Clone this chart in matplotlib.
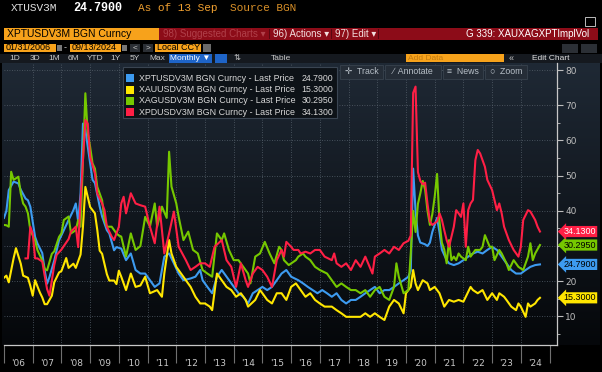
import numpy as np
import matplotlib
matplotlib.use("Agg")
import matplotlib.pyplot as plt
from matplotlib.patches import Rectangle
from matplotlib.colors import LinearSegmentedColormap
from matplotlib.transforms import blended_transform_factory

# month offsets from Jan 2006 and 3M implied vol
xpt_m = [0, 1, 2, 4, 6, 7, 9, 10, 11, 13, 14, 16, 17, 18, 19, 21, 22, 23, 25, 27, 29, 30, 31, 32, 33, 34,
         36, 37, 38, 40, 41, 43, 44, 46, 47, 49, 51, 53, 55, 57, 59, 61, 63, 65, 67, 69, 71, 73, 75, 78,
         80, 82, 83, 85, 87, 89, 91, 93, 95, 98, 100, 102, 104, 106, 108, 110, 112, 114, 116, 118, 120,
         123, 125, 127, 129, 131, 133, 135, 137, 139, 141, 143, 145, 147, 149, 151, 153, 155, 157, 159,
         161, 163, 165, 167, 169, 170, 171, 172, 173, 174, 176, 177, 178, 179, 181, 182, 183, 185, 186,
         188, 190, 192, 194, 196, 198, 200, 202, 204, 206, 208, 210, 212, 214, 216, 218, 220, 222, 224]
xpt_v = [38, 40, 45.9, 48.3, 47.8, 46, 43.5, 43, 41.2, 32.6, 30.7, 28, 23.1, 19.3, 21.2, 25.9, 28.8, 31.6,
         34.5, 37.4, 40.2, 42.1, 37, 45, 64.8, 63, 53.5, 48.8, 47.9, 41.2, 38.4, 34.5, 33.6, 28.8, 29.7,
         29.3, 26, 27.9, 23.2, 22.2, 22.2, 20.3, 18.4, 19.4, 27, 27.9, 25.1, 22.2, 20.3, 20.8, 21.3, 23.2,
         20.3, 18.4, 16.6, 21.3, 23.2, 21.3, 19.4, 16.6, 15.6, 13.7, 16.6, 17.5, 18.4, 17.5, 18.4, 20.3,
         22.2, 23.2, 21.3, 20.3, 19.4, 18.4, 17.5, 16.6, 17.5, 16.6, 15.6, 16.6, 14.7, 13.7, 14.7, 14.7,
         15.6, 16.6, 17.5, 18.4, 16.6, 17.5, 17.5, 18.4, 19.4, 20.3, 21.3, 23, 52, 40, 33, 31, 30.5, 30,
         31, 34, 38, 34, 29, 26, 25.1, 24.6, 25.1, 26, 27, 27.9, 28.4, 27.9, 28.9, 29.8, 28.9, 27, 25.1,
         23.2, 22.2, 22.2, 23.2, 24.1, 24.6, 24.79]

xau_m = [0, 1, 2, 4, 5, 7, 8, 10, 11, 12, 13, 14, 15, 16, 17, 18, 20, 21, 23, 24, 26, 27, 29, 30, 32, 33,
         34, 35, 36, 38, 39, 40, 41, 43, 44, 46, 47, 48, 49, 51, 53, 55, 57, 59, 61, 64, 66, 67, 69, 70,
         72, 74, 76, 78, 80, 82, 84, 86, 87, 89, 91, 93, 95, 97, 99, 101, 102, 105, 107, 108, 110, 112,
         114, 116, 118, 120, 122, 124, 126, 128, 130, 132, 134, 137, 139, 141, 143, 146, 149, 151, 153,
         155, 157, 159, 161, 163, 165, 167, 168, 170, 171, 172, 173, 175, 177, 178, 180, 182, 184, 186,
         188, 190, 192, 193, 195, 196, 198, 200, 202, 204, 206, 207, 209, 210, 212, 214, 215, 216, 218,
         219, 220, 222, 223, 224]
xau_v = [21, 21.6, 19.7, 26.5, 29.4, 25, 21.6, 21, 18.7, 15.9, 20.3, 18.5, 16.8, 15.4, 13.5, 13.5, 15.9,
         19.7, 22.5, 22.9, 26.6, 23.8, 25, 23.8, 27.6, 35.5, 46.8, 43.9, 41.1, 39.3, 34.5, 28.7, 27.8, 22,
         20.2, 20.2, 19.2, 23, 21.3, 17.5, 22.2, 18.4, 18.8, 21.3, 16.6, 17.5, 15.6, 22.2, 31.7, 27.9,
         24.1, 22.2, 20.3, 18.4, 15.6, 13.7, 13.7, 12.8, 11.8, 22.2, 20.3, 18.4, 17.5, 15.6, 16.6, 14.7,
         12.8, 14.7, 17.5, 16.6, 14.7, 13.7, 16.6, 16.6, 14.7, 18.4, 19.4, 17.5, 15.6, 16.6, 14.7, 13.7,
         12.8, 12.8, 11.8, 10.9, 9.9, 9.9, 9.9, 10.9, 9.9, 10.9, 9.9, 9.0, 12.8, 14.7, 13.7, 10.9, 16.6,
         18.4, 23.2, 19.4, 17.5, 20.3, 19.4, 17.5, 18.4, 16.6, 12.8, 14.7, 14.2, 14.7, 14.2, 15.6, 18.4,
         17.5, 16.6, 17.5, 14.7, 16.6, 14.7, 16.6, 15.6, 14.7, 12.8, 11.8, 13.7, 12.8, 9.9, 13.7, 12.8,
         13.7, 14.7, 15.3]

xag_m = [0, 1, 2, 3, 4, 6, 7, 8, 9, 10, 11, 13, 14, 16, 17, 18, 20, 21, 23, 24, 25, 27, 28, 30, 31, 32,
         34, 35, 36, 37, 38, 39, 41, 42, 43, 45, 47, 48, 49, 51, 53, 55, 57, 59, 61, 63, 64, 66, 68, 69,
         70, 72, 73, 75, 77, 79, 81, 83, 85, 87, 89, 91, 92, 94, 96, 98, 100, 102, 103, 105, 107, 109,
         111, 113, 115, 116, 117, 119, 122, 123, 125, 126, 128, 130, 132, 135, 137, 139, 141, 143, 145,
         147, 149, 151, 153, 155, 157, 159, 161, 163, 164, 165, 167, 169, 170, 171, 172, 173, 174, 175,
         176, 177, 178, 179, 180, 181, 182, 183, 184, 185, 186, 187, 188, 189, 190, 191, 193, 194, 195,
         197, 199, 200, 201, 203, 204, 205, 207, 208, 210, 211, 213, 215, 217, 219, 220, 221, 222, 224]
xag_v = [36, 35.9, 35.5, 51.1, 48.8, 49.7, 45, 42.1, 41.2, 39.3, 34.5, 31.6, 28.8, 25.9, 23.5, 23.1, 27.8,
         28.5, 32.6, 33.6, 37.4, 38.4, 33.6, 34.5, 37.4, 35.5, 73.4, 62, 58.2, 53.5, 52, 46.8, 43, 37.4,
         35.5, 35.5, 33.6, 33, 32.7, 27, 33.6, 28.9, 30, 38.3, 35.5, 42.1, 35.5, 41.2, 38, 56.8, 46.9,
         42.1, 38.3, 31.7, 34.1, 28.9, 27.9, 23.2, 22.2, 21.3, 33.6, 31.7, 33.6, 28.9, 26, 26, 24.1, 22.2,
         19.4, 27, 27.9, 31.2, 27.9, 25.1, 29.8, 28.9, 26, 24.6, 26, 27, 27.9, 27, 26, 24.1, 23.2, 22.2,
         20.3, 18.4, 19.4, 18.4, 17.5, 17.5, 16.6, 17.5, 15.6, 17.5, 18.4, 15.6, 14.7, 18.4, 25.1, 21.3,
         16.6, 17.5, 28, 40, 34, 42, 45, 48.5, 46, 40, 36, 39, 44, 50.5, 37, 31, 29, 25.1, 31.7, 26, 27,
         26, 27.9, 27, 26, 29.8, 27, 28.9, 28.9, 29.8, 33.1, 29.8, 29.8, 26, 28.9, 27.9, 25.1, 23.2, 26,
         24.1, 23.2, 27, 30.8, 26, 27.9, 30.295]

xpd_m = [9, 10, 11, 12, 13, 14, 16, 17, 18, 19, 21, 22, 24, 27, 28, 30, 31, 32, 33, 34, 35, 36, 38, 39,
         41, 42, 43, 45, 46, 48, 49, 50, 51, 53, 55, 57, 59, 61, 63, 65, 67, 69, 71, 73, 76, 78, 80, 82,
         84, 86, 88, 91, 93, 95, 97, 99, 101, 102, 104, 106, 108, 110, 112, 114, 116, 117, 118, 120, 121,
         123, 124, 126, 128, 130, 132, 134, 137, 138, 139, 141, 143, 145, 147, 149, 151, 154, 155, 157,
         159, 161, 163, 165, 167, 169, 170, 171, 172, 173, 174, 175, 176, 177, 178, 179, 181, 182, 183,
         184, 185, 186, 188, 189, 190, 191, 192, 193, 194, 195, 196, 197, 198, 199, 201, 202, 204, 205,
         206, 207, 208, 209, 211, 213, 215, 216, 217, 219, 220, 222, 223, 224]
xpd_v = [26.5, 26.5, 35.5, 33.6, 26.5, 26.5, 25.6, 21.6, 17.8, 15.9, 24.6, 27.5, 29, 32, 34.1, 35.5, 29.7,
         43, 54.4, 65.8, 64.8, 55.3, 50.6, 44.9, 42.1, 40.2, 35.5, 32.7, 31.7, 35.5, 42.1, 44, 39.3, 45,
         42.1, 41.6, 41.2, 35.5, 30.8, 41.2, 27.9, 33.6, 39.8, 29.8, 26, 23.2, 24.1, 25.1, 25.1, 24.1,
         29.8, 31.7, 26, 24.1, 18.4, 25.1, 20.3, 18.4, 22.2, 24.1, 23.2, 21.3, 18.4, 26, 28.9, 27, 31.2,
         29.8, 28.9, 28.9, 27.9, 28.4, 27.9, 28.9, 28.9, 27, 26, 27.9, 25.1, 24.1, 25.1, 23.2, 26, 24.1,
         27, 22.2, 27, 27.9, 28.9, 27.9, 29.8, 28.9, 30.8, 31.5, 33, 73.5, 75.3, 51, 48.5, 47.5, 48, 42,
         37, 36, 37, 39.3, 37.5, 34.5, 31.7, 29.8, 35.5, 40.2, 39.3, 38.3, 42.1, 29.8, 40.2, 42.1, 43.1,
         54.4, 57.3, 56.3, 52.5, 48.8, 45.9, 43.1, 40.2, 42.1, 39.3, 35.5, 31.7, 28.9, 27, 29.8, 37.4,
         40.2, 39.8, 37.4, 35.5, 34.13]

names = ["XPTUSDV3M", "XAUUSDV3M", "XAGUSDV3M", "XPDUSDV3M"]
last_prices = ["24.7900", "15.3000", "30.2950", "34.1300"]
colors = ["#3d9bf0", "#ffe600", "#76c800", "#ff1f45"]
year_labels = ["'%02d" % (y % 100) for y in range(2006, 2025)]
# the 30 label sits under the silver last-price tag on the terminal
y_labels = ["10", "20", "", "40", "50", "60", "70", "80"]

SANS = ["Liberation Sans", "DejaVu Sans"]
MONO = ["Liberation Mono", "DejaVu Sans Mono"]

W, H = 602, 372
fig = plt.figure(figsize=(W / 100, H / 100), dpi=100, facecolor="black")


def fx(x):
    return x / W


def fy(y):
    return 1 - y / H


def box(x0, y0, x1, y1, fc, ec="none", lw=0.6, z=1):
    fig.add_artist(Rectangle((fx(x0), fy(y1)), (x1 - x0) / W, (y1 - y0) / H,
                             transform=fig.transFigure, fc=fc, ec=ec, lw=lw, zorder=z))


def txt(x, y, s, color="#c8c8c8", size=6.5, ha="left", family=SANS, weight="normal", z=5):
    fig.text(fx(x), fy(y), s, color=color, fontsize=size, ha=ha, va="center",
             family=family, weight=weight, zorder=z)


# ---- header rows ----
txt(11, 8, "XTUSV3M", "#e0e0e0", 8, family=MONO)
txt(73, 8, "24.7900", "#ffffff", 8.5, family=MONO, weight="bold")
txt(138, 8, "As of 13 Sep", "#f0a030", 8, family=MONO)
txt(230, 8, "Source BGN", "#d99028", 8, family=MONO)
box(585, 17, 595, 26, "none", ec="#bbbbbb", lw=0.7)

box(4, 28, 159, 40, "#f7a21b")
txt(7, 34, "XPTUSDV3M BGN Curncy", "#000000", 7.5)
box(159, 28, 598, 40, "#8c0c18")
txt(163, 34, "98) Suggested Charts \u25be", "#b0404a", 7)
txt(273, 34, "96) Actions \u25be", "#f2dede", 7)
txt(335, 34, "97) Edit \u25be", "#f2dede", 7)
for sx in (269, 331, 378):
    box(sx, 29, sx + 0.7, 39, "#5a0610")
txt(589, 34, "G 339: XAUXAGXPTImplVol", "#ffffff", 7, ha="right")

box(4, 44, 56, 52, "#f7a21b")
txt(6, 48, "01/31/2006", "#000000", 6.5)
box(57, 45, 62, 51, "#777777")
txt(64, 48, "-", "#c8c8c8", 6.5)
box(70, 44, 121, 52, "#f7a21b")
txt(72, 48, "09/13/2024", "#000000", 6.5)
box(122, 45, 127, 51, "#777777")
box(130, 44, 140, 52, "#2b2f35")
txt(135, 48, "<", "#c8c8c8", 6, ha="center")
box(143, 44, 153, 52, "#2b2f35")
txt(148, 48, ">", "#c8c8c8", 6, ha="center")
box(155, 44, 201, 52, "#f7a21b")
txt(157, 48, "Local CCY", "#000000", 6.5)
box(203, 44, 211, 52, "#6a6a6a")
box(562, 44, 578, 53, "#2b2f35")
box(581, 44, 597, 53, "#2b2f35")

box(0, 54, 602, 63, "#15191f")
for lab, xc in zip(["1D", "3D", "1M", "6M", "YTD", "1Y", "5Y", "Max"],
                   [15, 35, 54, 73, 95, 115, 135, 157]):
    txt(xc, 58.5, lab, "#c8c8c8", 6, ha="center")
box(169, 54, 212, 63, "#1e64c8")
txt(190, 58.5, "Monthly \u25bc", "#ffffff", 6, ha="center")
box(215, 54, 227, 63, "#1e64c8")
txt(237, 58.5, "\u21c5", "#c8c8c8", 6, ha="center")
txt(281, 58.5, "Table", "#c8c8c8", 6, ha="center")
box(406, 54, 504, 62, "#f7a21b")
txt(408, 58, "Add Data", "#c07a10", 6)
txt(511, 58.5, "\u00ab", "#c8c8c8", 6.5, ha="center")
txt(532, 58.5, "Edit Chart", "#e0e0e0", 6)

# ---- chart background ----
bg = fig.add_axes([fx(2), fy(345), (600 - 2) / W, (345 - 63) / H], zorder=0)
grad = np.linspace(0, 1, 256).reshape(-1, 1)
bg.imshow(grad, aspect="auto", extent=[0, 1, 0, 1],
          cmap=LinearSegmentedColormap.from_list("bbg", ["#1f2935", "#05070a"]))
bg.set_axis_off()

ax = fig.add_axes([fx(4), fy(345), (557 - 4) / W, (345 - 63) / H], zorder=1)
ax.set_facecolor("none")

series_m = [xpt_m, xau_m, xag_m, xpd_m]
series_v = [xpt_v, xau_v, xag_v, xpd_v]
for m, v, c in zip(series_m, series_v, colors):
    ax.plot(2006 + np.asarray(m) / 12.0, v, color=c, lw=1.5, solid_joinstyle="round", zorder=3)

ax.set_xlim(2006.06, 2025.26)
ax.set_ylim(1.9, 82.0)

ax.yaxis.tick_right()
ax.set_yticks(range(10, 81, 10))
ax.set_yticklabels(y_labels)
ax.set_yticks(range(5, 81, 5), minor=True)
ax.tick_params(axis="y", which="both", colors="#bdbdbd", labelsize=6.5, direction="out", pad=2)
ax.tick_params(axis="y", which="major", length=4, width=0.8)
ax.tick_params(axis="y", which="minor", length=2.5, width=0.6)

ax.set_xticks(range(2006, 2026))
ax.set_xticks([y + 0.5 for y in range(2006, 2025)], minor=True)
ax.set_xticklabels([])
ax.set_xticklabels(year_labels, minor=True)
ax.tick_params(axis="x", which="major", length=13, width=0.8, colors="#707070", direction="out")
ax.tick_params(axis="x", which="minor", length=0, labelsize=6.5, labelcolor="#c8c8c8", pad=10)

for v in range(10, 81, 10):
    ax.axhline(v, color="#56616c", lw=0.6, ls=(0, (1, 2)), zorder=1)
for yr in range(2007, 2025):
    ax.axvline(yr, color="#56616c", lw=0.6, ls=(0, (1, 2)), zorder=1)

for side in ("top", "left"):
    ax.spines[side].set_visible(False)
for side in ("bottom", "right"):
    ax.spines[side].set_color("#c8c8c8")
    ax.spines[side].set_linewidth(0.9)

# last price tags on the right axis
tr = blended_transform_factory(ax.transAxes, ax.transData)
for m, v, c, lp in zip(series_m, series_v, colors, last_prices):
    tc = "#ffffff" if c == "#ff1f45" else "#000000"
    ax.text(1.012, v[-1], lp, transform=tr, fontsize=6.5, color=tc, va="center", ha="left",
            family=SANS, zorder=6, clip_on=False,
            bbox=dict(boxstyle="larrow,pad=0.12", fc=c, ec="none"))

# legend box
box(123, 67, 337, 118, "#0d1217", ec="#3a4552", lw=0.8, z=4)
for i, (n, lp, c) in enumerate(zip(names, last_prices, colors)):
    yy = 78.3 + i * 11.3
    box(126, yy - 4, 134, yy + 4, c, z=5)
    txt(139, yy, n + " BGN Curncy - Last Price", "#d8d8d8", 6.4)
    txt(333, yy, lp, "#d8d8d8", 6.3, ha="right")

# chart toolbar
for x0, x1, lab in [(340, 383, "\u271b  Track"), (385, 441, "\u2215  Annotate"),
                    (443, 483, "\u2261  News"), (485, 527, "\u25cb  Zoom")]:
    box(x0, 65, x1, 79, "#252d37", ec="#38424e", lw=0.6, z=4)
    txt((x0 + x1) / 2, 72, lab, "#b8c0c8", 6.3, ha="center")

fig.savefig("out.png", dpi=100, facecolor="black")
